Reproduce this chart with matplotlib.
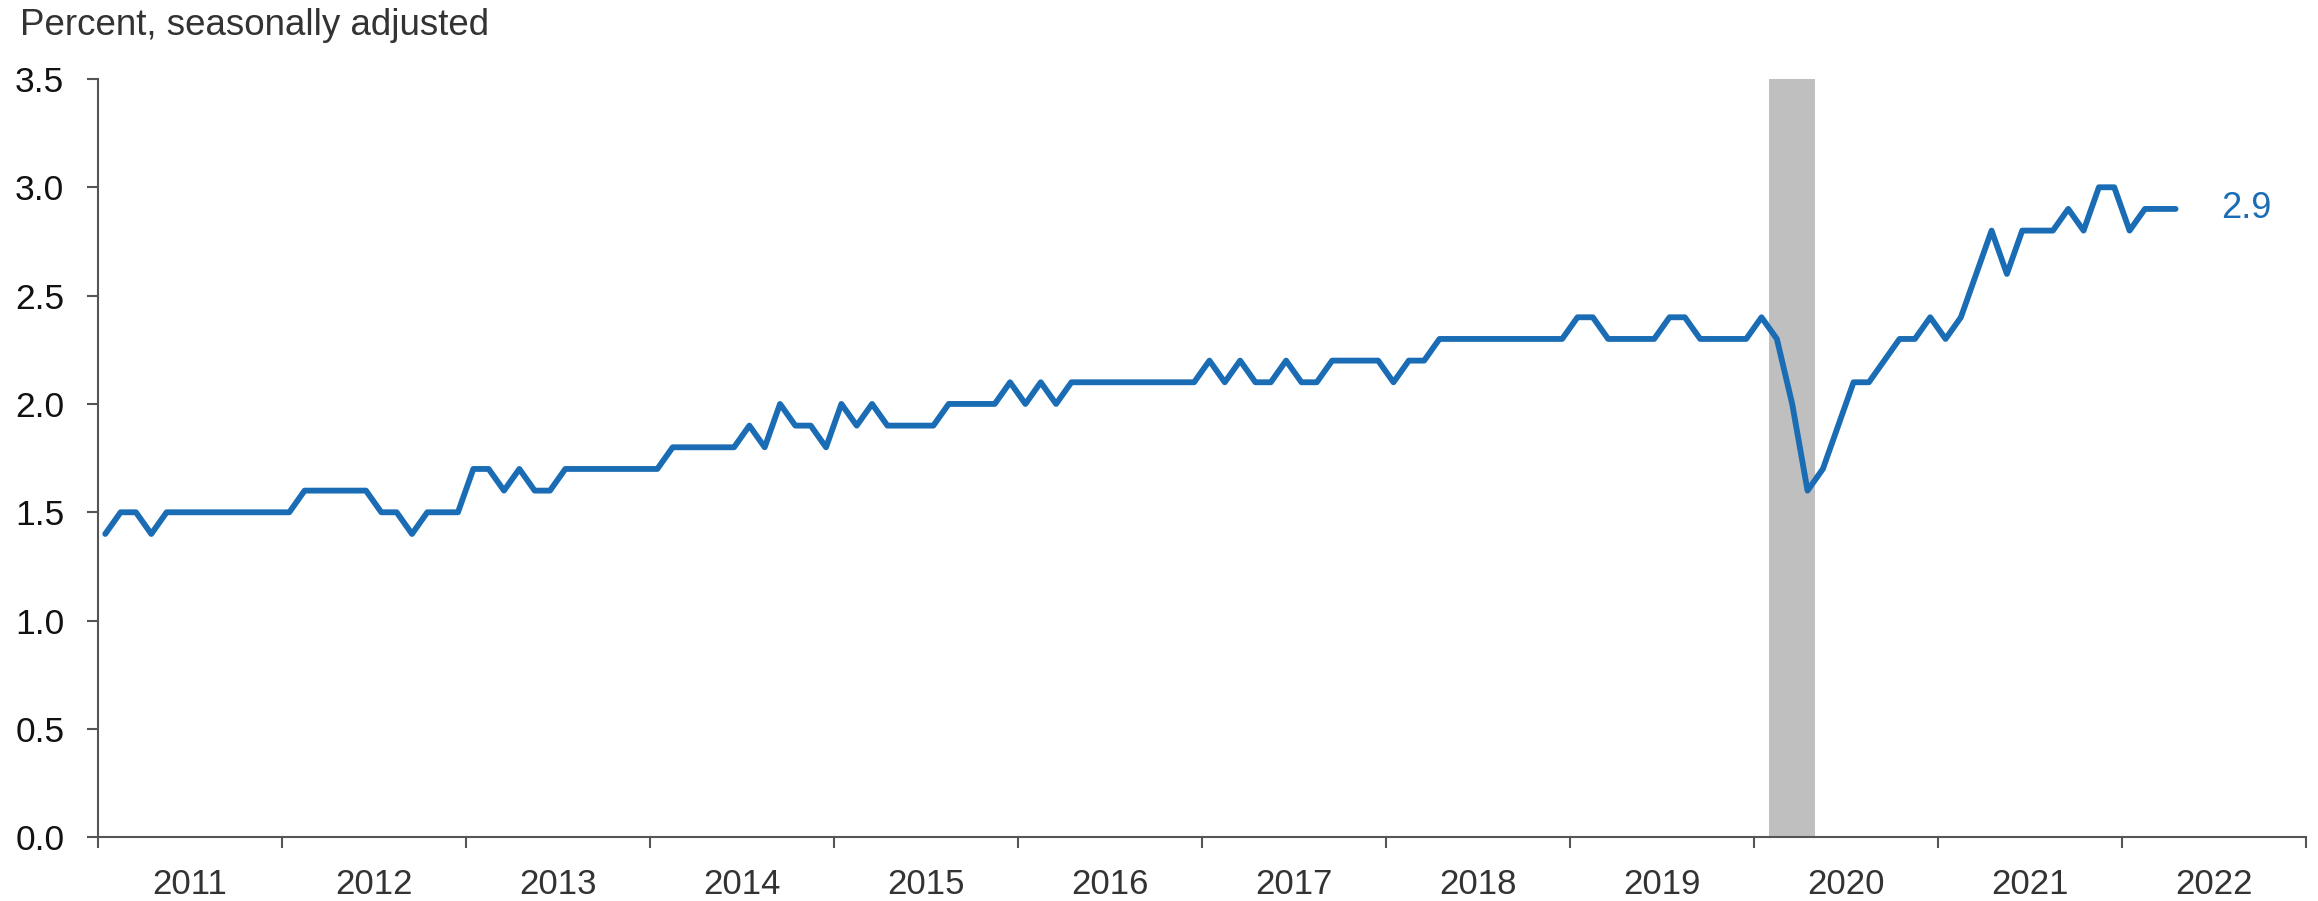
import numpy as np
import matplotlib
matplotlib.use("Agg")
import matplotlib.pyplot as plt

plt.rcParams['font.family'] = ['Liberation Sans', 'DejaVu Sans']

# Monthly values, Jan 2011 - Apr 2022 (percent, seasonally adjusted)
vals_2011 = [1.4, 1.5, 1.5, 1.4, 1.5, 1.5, 1.5, 1.5, 1.5, 1.5, 1.5, 1.5]
vals_2012 = [1.5, 1.6, 1.6, 1.6, 1.6, 1.6, 1.5, 1.5, 1.4, 1.5, 1.5, 1.5]
vals_2013 = [1.7, 1.7, 1.6, 1.7, 1.6, 1.6, 1.7, 1.7, 1.7, 1.7, 1.7, 1.7]
vals_2014 = [1.7, 1.8, 1.8, 1.8, 1.8, 1.8, 1.9, 1.8, 2.0, 1.9, 1.9, 1.8]
vals_2015 = [2.0, 1.9, 2.0, 1.9, 1.9, 1.9, 1.9, 2.0, 2.0, 2.0, 2.0, 2.1]
vals_2016 = [2.0, 2.1, 2.0, 2.1, 2.1, 2.1, 2.1, 2.1, 2.1, 2.1, 2.1, 2.1]
vals_2017 = [2.2, 2.1, 2.2, 2.1, 2.1, 2.2, 2.1, 2.1, 2.2, 2.2, 2.2, 2.2]
vals_2018 = [2.1, 2.2, 2.2, 2.3, 2.3, 2.3, 2.3, 2.3, 2.3, 2.3, 2.3, 2.3]
vals_2019 = [2.4, 2.4, 2.3, 2.3, 2.3, 2.3, 2.4, 2.4, 2.3, 2.3, 2.3, 2.3]
vals_2020 = [2.4, 2.3, 2.0, 1.6, 1.7, 1.9, 2.1, 2.1, 2.2, 2.3, 2.3, 2.4]
vals_2021 = [2.3, 2.4, 2.6, 2.8, 2.6, 2.8, 2.8, 2.8, 2.9, 2.8, 3.0, 3.0]
vals_2022 = [2.8, 2.9, 2.9, 2.9]

values = (vals_2011 + vals_2012 + vals_2013 + vals_2014 + vals_2015 + vals_2016
          + vals_2017 + vals_2018 + vals_2019 + vals_2020 + vals_2021 + vals_2022)
years = list(range(2011, 2023))
first_year = 2011

# recession: Feb 2020 - Apr 2020
rec_start = (2020, 2)
rec_end = (2020, 4)

blue = '#1a6db5'
months = np.arange(len(values)) + 0.5  # month centers


def month_pos(ym):
    return (ym[0] - first_year) * 12 + (ym[1] - 1)


fig = plt.figure(figsize=(23.18, 9.01), dpi=100)
ax = fig.add_axes([0.0421, 0.0707, 0.9527, 0.8417])

ax.axvspan(month_pos(rec_start), month_pos(rec_end) + 1, color='#bfbfbf', lw=0, zorder=1)
ax.plot(months, values, color=blue, lw=4.2, solid_joinstyle='round',
        solid_capstyle='round', zorder=3)
ax.text(months[-1] + 3.0, values[-1], f"{values[-1]:.1f}", color=blue,
        fontsize=26, va='center', ha='left')

ax.set_xlim(0, len(years) * 12)
ax.set_ylim(0, 3.5)
ax.set_yticks(np.arange(0, 3.51, 0.5))
ax.set_yticklabels([f"{v:.1f}" for v in np.arange(0, 3.51, 0.5)])

ax.set_xticks(np.arange(0, len(years) * 12 + 1, 12))
ax.set_xticklabels([])
ax.set_xticks(np.arange(6, len(years) * 12, 12), minor=True)
ax.set_xticklabels([str(y) for y in years], minor=True)

for s in ['top', 'right']:
    ax.spines[s].set_visible(False)
for s in ['left', 'bottom']:
    ax.spines[s].set_color('#555555')
    ax.spines[s].set_linewidth(1.5)

ax.tick_params(axis='y', which='major', length=8, width=1.5, color='#555555',
               labelsize=25.5, labelcolor='#111111', pad=16)
ax.tick_params(axis='x', which='major', length=8, width=1.5, color='#555555')
ax.tick_params(axis='x', which='minor', length=0, labelsize=25,
               labelcolor='#333333', pad=22)

fig.text(0.0086, 0.972, "Percent, seasonally adjusted", fontsize=26.5,
         color='#333333', va='center', ha='left')

fig.savefig("out.png", dpi=100)
